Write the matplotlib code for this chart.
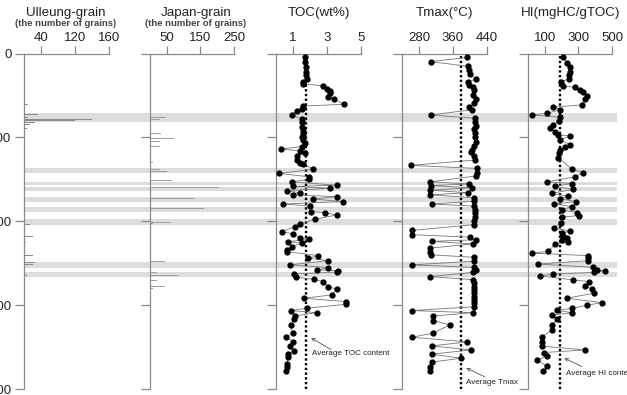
import matplotlib
matplotlib.use('Agg')
import matplotlib.pyplot as plt

plt.rcParams['font.family'] = ['Liberation Sans', 'DejaVu Sans']

# ---------------- data ----------------
depth_ticks = [0, 100, 200, 300, 400]
depth_labels = ['0', '100', '200', '300', '400']

band_depths = [(71, 81.5), (136.7, 142.7), (152.8, 156.8), (158.7, 163.5),
               (171.4, 177.4), (183.3, 188.9), (197.6, 204), (248.9, 255.3),
               (260.8, 266.7)]

ulleung_depth = [60.6, 72.5, 76.5, 78.5, 79.5, 82, 85, 89,
                 203.6, 210.4, 218.3, 225.5, 233, 241, 249.3, 251.3, 253.3, 262.8, 264.4]
ulleung_count = [10, 34, 10, 159, 120, 26, 14, 8,
                 14, 6, 22, 5, 34, 22, 26, 22, 26, 10, 8]
ulleung_ticks = [40, 120, 200]
ulleung_ticklabels = ['40', '120', '160']

japan_depth = [76, 78.5, 95, 101, 103, 105, 108, 111, 115, 130, 138, 141, 145, 151,
               155.5, 160, 161.5, 162.7, 172.6, 175.8, 177, 185, 186.5, 187.7, 191.3,
               193.7, 199.6, 201.6, 203, 248, 251, 260.8, 262.8, 264.8, 270.8, 276, 278, 280]
japan_count = [49, 29, 34, 70, 44, 30, 20, 30, 10, 10, 30, 52, 20, 64,
               160, 206, 123, 29, 132, 126, 20, 162, 98, 20, 44,
               64, 95, 60, 10, 44, 29, 20, 27, 83, 20, 59, 44, 10]
japan_ticks = [50, 150, 250]

toc_depth = [3.8, 9.7, 15.7, 21.6, 25.5, 30.4, 33.6, 36.0, 38.7, 42.7, 44.3, 47.5, 51.5,
             54.6, 60.6, 62.6, 66.0, 68.5, 73.3, 78.0, 82.0, 88.0, 92.0, 96.0, 99.0,
             103.0, 107.0, 111.0, 114.0, 116.0, 119.0, 122.0, 127.0, 130.0, 132.0,
             138.0, 143.0, 147.0, 150.0, 153.0, 157.0, 158.5, 160.7, 163.5, 166.0,
             168.6, 170.7, 173.5, 176.6, 179.4, 181.8, 188.5, 189.7, 192.5, 197.6,
             203.2, 206.4, 212.4, 215.0, 219.5, 221.5, 224.3, 226.3, 230.2, 234.0,
             236.2, 241.0, 244.1, 246.9, 252.0, 255.3, 258.0, 258.8, 260.5, 262.8,
             266.8, 269.2, 272.0, 278.0, 281.0, 287.8, 291.8, 295.8, 299.0, 303.7,
             306.5, 309.0, 313.0, 317.0, 323.6, 333.5, 338.3, 343.5, 348.6, 354.2,
             358.2, 362.0, 370.0, 374.0, 379.0]
toc_value = [1.71, 1.71, 1.74, 1.76, 1.78, 1.84, 1.61, 1.61, 2.75, 2.98, 3.18, 3.2, 3.06,
             3.41, 4.0, 1.61, 1.55, 1.22, 0.92, 1.51, 1.51, 1.51, 1.61, 1.61, 1.55,
             1.61, 1.7, 1.51, 0.27, 1.42, 1.71, 1.22, 1.22, 1.42, 1.61,
             2.2, 0.2, 1.96, 1.96, 0.92, 3.57, 1.0, 3.18, 0.63, 1.41,
             1.02, 3.57, 2.2, 3.96, 0.39, 2.0, 2.04, 2.88, 3.57, 2.29,
             1.41, 1.12, 0.33, 1.02, 1.41, 1.96, 0.73, 1.51, 0.92, 0.63,
             0.63, 2.49, 1.9, 3.08, 0.82, 3.08, 2.43, 3.67, 3.6, 1.08,
             1.18, 2.24, 2.78, 3.08, 3.57, 3.27, 1.67, 4.12, 4.12, 1.8,
             0.86, 2.39, 1.09, 1.05, 0.86, 0.98, 0.59, 1.02, 0.82, 1.08,
             0.73, 0.73, 0.63, 0.67, 0.59]
toc_avg = 1.76
toc_ticks = [1, 3, 5]

tmax_depth = [4.6, 9.7, 15.3, 20, 24.7, 30.6, 33.6, 37.6, 39.5, 43, 50, 54.6, 59, 64, 67,
              73.3, 77.3, 82, 86, 90, 95, 100, 105, 110, 115, 118, 122, 127, 133.4, 137,
              142, 146, 153, 155.5, 157.5, 160, 163, 166, 168.5, 172, 176, 179.4, 182,
              186, 190, 195, 200, 204, 211, 216, 219, 222, 224, 227, 232, 237, 240, 243,
              247.6, 252, 255, 258, 261, 266, 269.7, 274, 278, 282, 286, 290, 294, 298,
              302, 306.5, 309, 313, 318.5, 323.6, 333.5, 338.3, 343.9, 348.6, 353.4,
              358.5, 363.3, 368, 373.3, 379]
tmax_value = [394, 308, 396, 397, 400, 414, 395, 398, 408, 410, 408, 414, 410, 398, 405,
              308, 412, 412, 414, 410, 412, 411, 414, 410, 404, 402, 410, 412, 260, 417,
              416, 414, 307, 398, 308, 404, 307, 396, 306, 409, 410, 310, 410,
              412, 411, 412, 410, 409, 263, 263, 400, 414, 310, 406, 306, 306, 308, 409,
              409, 263, 409, 414, 408, 306, 408, 409, 409, 410, 409, 410, 409, 410,
              409, 263, 406, 314, 314, 353, 312, 263, 394, 310, 402,
              310, 378, 310, 306, 307]
tmax_avg = 379
tmax_ticks = [280, 360, 440]

hi_depth = [4.6, 11, 15.7, 21.6, 25.6, 30.4, 33.6, 38.7, 40.3, 43.5, 46, 50.6, 54.6, 61.3,
            64, 67, 71.4, 73.3, 76, 80, 85.3, 89.3, 93, 97, 98.3, 103, 109, 112, 115, 119,
            124, 138, 142, 147, 153, 155, 158.5, 162, 166.7, 170, 173, 176.6, 179.4,
            182.5, 186.5, 189.7, 193.3, 195, 202, 208.4, 211.5, 214.5, 217, 219.5, 222,
            224.5, 227.5, 236, 238, 241, 244, 247, 251, 255, 258, 258.8, 261, 263, 265,
            270, 272, 277, 281, 285.7, 291.8, 297, 300, 304, 306, 309, 312, 317, 324,
            330, 337.5, 343.5, 349, 353.4, 356.5, 360.5, 366, 372.5, 379]
hi_value = [207, 231, 251, 248, 246, 246, 195, 207, 281, 310, 325, 354, 340, 320,
            151, 191, 111, 22, 191, 185, 151, 131, 161, 181, 251, 191, 251, 221, 191, 187,
            181, 261, 330, 281, 111, 261, 161, 267, 141, 241, 191, 287, 155,
            261, 201, 294, 301, 201, 195, 155, 251, 201, 211, 231, 205,
            241, 161, 121, 22, 360, 355, 360, 62, 386, 410, 460, 390, 151, 72,
            270, 366, 340, 380, 394, 231, 440, 354, 261, 171, 261, 141, 171, 141,
            141, 82, 86, 86, 340, 96, 111, 56, 111, 92]
hi_avg = 191
hi_ticks = [100, 300, 500]

# ---------------- layout ----------------
W, H = 627, 395
fig = plt.figure(figsize=(W / 100, H / 100), dpi=100)


def fx(px):
    return px / W


def fy(py):
    return 1 - py / H


top_px, bot_px = 53.5, 389.0
ax_b = fy(bot_px)
ax_h = (bot_px - top_px) / H

spine_col = '#8a8a8a'
text_col = '#222222'

# background bands
bg = fig.add_axes([fx(24), ax_b, fx(617) - fx(24), ax_h], zorder=0)
bg.set_ylim(400, 0)
bg.set_xlim(0, 1)
bg.axis('off')
for d0, d1 in band_depths:
    bg.axhspan(d0, d1, color='#dddddd', lw=0)


def make_ax(x0, x1, xlim, ticks, ticklabels=None, ylabels=False):
    ax = fig.add_axes([fx(x0), ax_b, fx(x1) - fx(x0), ax_h], zorder=2)
    ax.patch.set_alpha(0)
    ax.set_xlim(*xlim)
    ax.set_ylim(400, 0)
    ax.xaxis.tick_top()
    ax.set_xticks(ticks)
    ax.set_xticklabels(ticklabels if ticklabels else [str(t) for t in ticks])
    ax.set_yticks(depth_ticks)
    if ylabels:
        ax.set_yticklabels(depth_labels)
    else:
        ax.set_yticklabels([])
    for s in ['right', 'bottom']:
        ax.spines[s].set_visible(False)
    for s in ['left', 'top']:
        ax.spines[s].set_color(spine_col)
        ax.spines[s].set_linewidth(0.9)
    ax.tick_params(axis='x', direction='out', length=5.5, width=0.9, color=spine_col,
                   labelsize=9.5, pad=1.5, labelcolor=text_col)
    ax.tick_params(axis='y', direction='out', length=6.5, width=0.9, color=spine_col,
                   labelsize=9.5, pad=2.5, labelcolor=text_col)
    return ax


ax1 = make_ax(24, 109, (0, 200), ulleung_ticks, ulleung_ticklabels, ylabels=True)
ax1.barh(ulleung_depth, ulleung_count, height=1.0, color='#8c8c8c', lw=0)

ax2 = make_ax(150, 234, (0, 250), japan_ticks)
ax2.barh(japan_depth, japan_count, height=0.9, color='#a0a0a0', lw=0)


def scatter_panel(ax, vals, depths, avg):
    ax.axvline(avg, color='k', ls=(0, (1, 1)), lw=1.7, zorder=2)
    ax.plot(vals, depths, '-', color='#777777', lw=0.6, zorder=3, clip_on=False)
    ax.plot(vals, depths, 'o', color='k', ms=3.5, mec='k', zorder=4, clip_on=False)


ax3 = make_ax(276, 361, (0, 5), toc_ticks)
scatter_panel(ax3, toc_value, toc_depth, toc_avg)

ax4 = make_ax(402, 487, (240, 440), tmax_ticks)
scatter_panel(ax4, tmax_value, tmax_depth, tmax_avg)

ax5 = make_ax(528, 612, (0, 500), hi_ticks)
scatter_panel(ax5, hi_value, hi_depth, hi_avg)

# titles
titles = [(65.5, 'Ulleung-grain'), (196, 'Japan-grain'), (318.5, 'TOC(wt%)'),
          (444.5, 'Tmax(°C)'), (570.5, 'HI(mgHC/gTOC)')]
for x, t in titles:
    fig.text(fx(x), fy(13), t, ha='center', va='center', fontsize=9.6, color=text_col)
for x in (65.5, 196):
    fig.text(fx(x), fy(24), '(the number of grains)', ha='center', va='center',
             fontsize=6.8, fontweight='bold', color='#444444')

# annotations for averages
arrow_kw = dict(arrowstyle='->', color='#555555', lw=0.6, shrinkA=0, shrinkB=0,
                mutation_scale=6)
ax3.annotate('', xy=(2.06, 339), xytext=(3.24, 353), arrowprops=arrow_kw,
             annotation_clip=False)
ax3.text(2.12, 358, 'Average TOC content', fontsize=5.8, color=text_col,
         ha='left', va='center', clip_on=False)
ax4.annotate('', xy=(391, 375), xytext=(435, 385.5), arrowprops=arrow_kw,
             annotation_clip=False)
ax4.text(391, 392.5, 'Average Tmax', fontsize=5.8, color=text_col,
         ha='left', va='center', clip_on=False)
ax5.annotate('', xy=(215, 363), xytext=(322, 373.5), arrowprops=arrow_kw,
             annotation_clip=False)
ax5.text(227, 382, 'Average HI content', fontsize=5.8, color=text_col,
         ha='left', va='center', clip_on=False)

fig.savefig('out.png', dpi=100)
